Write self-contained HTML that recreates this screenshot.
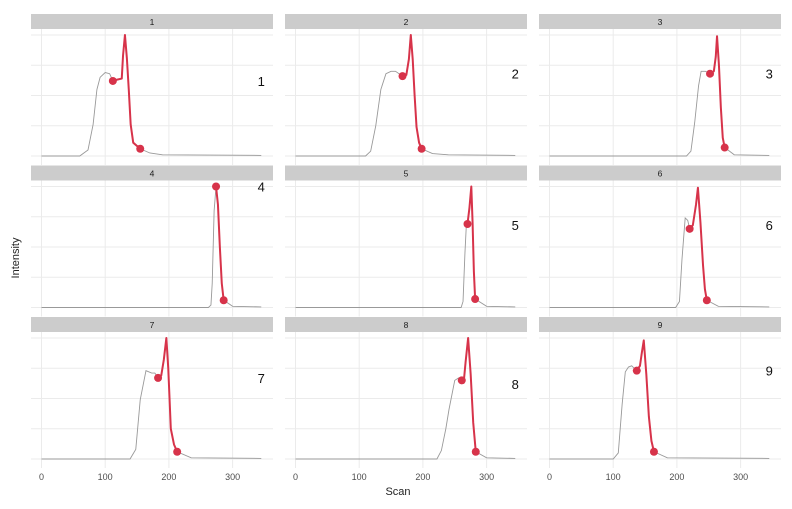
<!DOCTYPE html>
<html><head><meta charset="utf-8"><style>
body{margin:0;background:#fff;font-family:"Liberation Sans",sans-serif}
svg text{font-family:"Liberation Sans",sans-serif}
</style></head><body>
<svg id="chart" width="792" height="504" xmlns="http://www.w3.org/2000/svg">
<g id="layer"></g>
<text x="0" y="0" transform="translate(19,258) rotate(-90)" text-anchor="middle" font-size="11" fill="#222">Intensity</text>
<text x="398" y="495" text-anchor="middle" font-size="11" fill="#222">Scan</text>
</svg>
<script>
const panelLabels=["1","2","3","4","5","6","7","8","9"];
const scans1=[0,60,73,81,87,92,100,107,112,118,126,128,131,134,137,140,144,155,170,190,345];
const ints1=[0,0,5,26,55,65,69,68,62,63,64,83,100,81,55,26,11,6,2.5,1,0.5];
const scans2=[0,110,118,126,134,142,150,157,168,174,178,181,184,187,190,194,198,215,240,345];
const ints2=[0,0,4,25,55,68,70,70,66,67,80,100,80,50,24,11,6,2,1,0.5];
const scans3=[0,215,222,228,234,238,245,252,258,261,263,266,269,272,275,290,345];
const ints3=[0,0,4,28,58,70,70,68,70,82,99,75,40,15,7,1,0.5];
const scans4=[0,262,266,268,271,274,277,280,283,286,300,345];
const ints4=[0,0,2,20,80,100,85,50,20,6,1,0.5];
const scans5=[0,260,263,266,268,270,273,276,278,280,282,300,345];
const ints5=[0,0,5,45,66,69,82,100,70,30,7,1,0.5];
const scans6=[0,198,204,208,213,217,220,225,230,233,237,241,244,247,265,345];
const ints6=[0,0,5,40,74,72,65,68,85,99,70,35,15,6,1,0.5];
const scans7=[0,139,148,155,164,173,178,183,188,192,196,199,203,208,213,235,345];
const ints7=[0,0,8,49,73,71,71,67,69,82,100,75,25,12,6,1,0.5];
const scans8=[0,222,229,236,241,250,256,261,264,267,271,275,279,283,300,345];
const ints8=[0,0,7,25,41,65,67,65,63,80,100,70,30,6,1,0.5];
const scans9=[0,100,108,114,119,124,129,137,142,145,148,152,156,160,164,185,345];
const ints9=[0,0,5,45,72,76,77,73,77,88,98,70,35,15,6,1,0.5];
const panelScans=[scans1,scans2,scans3,scans4,scans5,scans6,scans7,scans8,scans9];
const panelIntensity=[ints1,ints2,ints3,ints4,ints5,ints6,ints7,ints8,ints9];
const redStart=[112,168,252,274,270,220,183,261,137];
const redEnd=[155,198,275,286,282,247,213,283,164];
const xTicks=[0,100,200,300];
const yGrid=[0,25,50,75,100];
const labelY=[62,68,68,100,68,68,67,62,73];

const NS="http://www.w3.org/2000/svg";
const layer=document.getElementById('layer');
function mk(t,a,p){const e=document.createElementNS(NS,t);for(const k in a)e.setAttribute(k,a[k]);(p||layer).appendChild(e);return e;}
function xs(c,v){return 41.5+254*c+v*0.637;}
function ys(r,v){return 156+151.5*r-v*1.21;}
for(let i=0;i<9;i++){
  const c=i%3,r=Math.floor(i/3);
  const g=mk('g',{});
  
  
  const top=14+151.5*r, left=31+254*c;
  const strip=mk('rect',{x:left,y:top,width:242,height:15,fill:'#cccccc'},g);
  
  
  const st=mk('text',{x:left+121,y:top+11,'text-anchor':'middle','font-size':'8.5',fill:'#1a1a1a'},g);
  st.textContent=panelLabels[i];
  
  
  yGrid.forEach(v=>{const l=mk('line',{x1:left,x2:left+242,y1:ys(r,v),y2:ys(r,v),stroke:'#ebebeb','stroke-width':1},g);
    });
  xTicks.forEach(v=>{const l=mk('line',{x1:xs(c,v),x2:xs(c,v),y1:top+15,y2:ys(r,0)+9,stroke:'#ebebeb','stroke-width':1},g);
    });
  const S=panelScans[i],I=panelIntensity[i];
  const gp=mk('polyline',{points:S.map((s,k)=>xs(c,s)+','+ys(r,I[k])).join(' '),fill:'none',stroke:'#999','stroke-width':0.9},g);
  
  const pts=[];S.forEach((s,k)=>{if(s>=redStart[i]&&s<=redEnd[i])pts.push(xs(c,s)+','+ys(r,I[k]));});
  const rp=mk('polyline',{points:pts.join(' '),fill:'none',stroke:'#d7334a','stroke-width':2,'stroke-linejoin':'round'},g);
  
  [redStart[i],redEnd[i]].forEach(s=>{const k=S.indexOf(s);
    const p=mk('circle',{cx:xs(c,s),cy:ys(r,I[k]),r:4,fill:'#d7334a'},g);
    });
  const lt=mk('text',{x:xs(c,345),y:ys(r,labelY[i])+5,'text-anchor':'middle','font-size':'13',fill:'#111'},g);
  lt.textContent=panelLabels[i];
  
  if(r===2){xTicks.forEach(v=>{const t=mk('text',{x:xs(c,v),y:480,'text-anchor':'middle','font-size':'9',fill:'#4d4d4d'},g);
    t.textContent=v;});}
}
</script>
</body></html>
